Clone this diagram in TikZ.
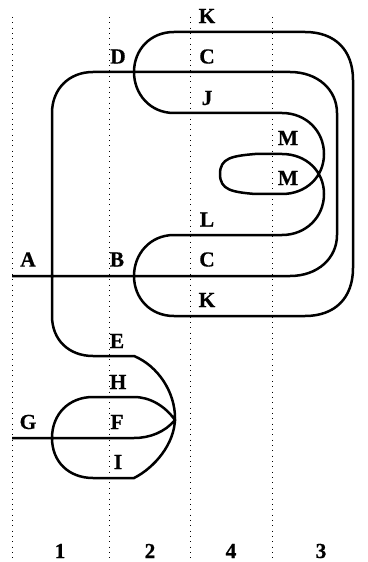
\documentclass[tikz,border=0pt]{standalone}
\usepackage{fontspec}
\setmainfont[BoldFeatures={FakeBold=0.6}]{Liberation Serif}
\tikzset{
  guide/.style={dash pattern=on 1bp off 4.35bp, line width=1bp, black},
  wire/.style={line width=2.5bp, black},
  lab/.style={font=\fontsize{21.5}{24}\selectfont\bfseries, inner sep=0pt, anchor=center}
}
\begin{document}
\begin{tikzpicture}[x=1bp,y=-1bp]
\useasboundingbox (0,0) rectangle (367,562);
\coordinate (g1t) at (12,17); \coordinate (g1b) at (12,562);
\coordinate (g2t) at (109.5,17); \coordinate (g2b) at (109.5,562);
\coordinate (g3t) at (190.5,17); \coordinate (g3b) at (190.5,562);
\coordinate (g4t) at (272,17); \coordinate (g4b) at (272,562);
\draw[guide] (g1t) -- (g1b);
\draw[guide] (g2t) -- (g2b);
\draw[guide] (g3t) -- (g3b);
\draw[guide] (g4t) -- (g4b);
% outer K loop
\draw[wire] (174,32) -- (305,32) .. controls (335,32) and (353,50) .. (353,80) -- (353,268)
  .. controls (353,298) and (335,316) .. (305,316) -- (174,316)
  .. controls (150,316) and (134,298) .. (134,276) .. controls (134,254) and (150,235) .. (174,235)
  -- (282,235) .. controls (306,235) and (324,217) .. (324,194) .. controls (324,171) and (306,154) .. (282,154)
  -- (255,154) .. controls (232,156) and (220,158) .. (220,174) .. controls (220,190) and (232,192) .. (255,194)
  -- (282,194) .. controls (306,194) and (324,177) .. (324,154) .. controls (324,131) and (306,113) .. (282,113)
  -- (174,113) .. controls (150,113) and (134,94) .. (134,72) .. controls (134,50) and (150,32) .. (174,32) -- cycle;
% C line
\draw[wire] (12,276) -- (290,276) .. controls (318,276) and (337,258) .. (337,235) -- (337,113)
  .. controls (337,90) and (318,72) .. (290,72) -- (93,72)
  .. controls (69,72) and (52,89) .. (52,113) -- (52,316)
  .. controls (52,340) and (69,356) .. (93,356) -- (134,356)
  .. controls (158,366) and (175,392) .. (175,418) .. controls (175,444) and (154,468) .. (134,478)
  -- (93,478) .. controls (69,478) and (52,462) .. (52,438) .. controls (52,414) and (69,397) .. (93,397)
  -- (134,397) .. controls (150,397) and (165,406) .. (175,420) .. controls (165,432) and (150,438) .. (134,438) -- (12,438);
\foreach \nm/\t/\px/\py in {nA/A/28/259.5,nB/B/117/259.5,nD/D/118/56.5,nK/K/207/16,nC/C/207/56.5,nJ/J/207/98,nM/M/288/138,nN/M/288/178,nL/L/207/219.5,nO/C/207/259.5,nP/K/207/300,nE/E/117/341,nH/H/118/382,nF/F/117/422,nG/G/28/422,nI/I/118/462,n1/1/60/551,n2/2/150/551,n4/4/231/551,n3/3/321/551}
  \node[lab] (\nm) at (\px,\py) {\t};
\end{tikzpicture}
\end{document}
